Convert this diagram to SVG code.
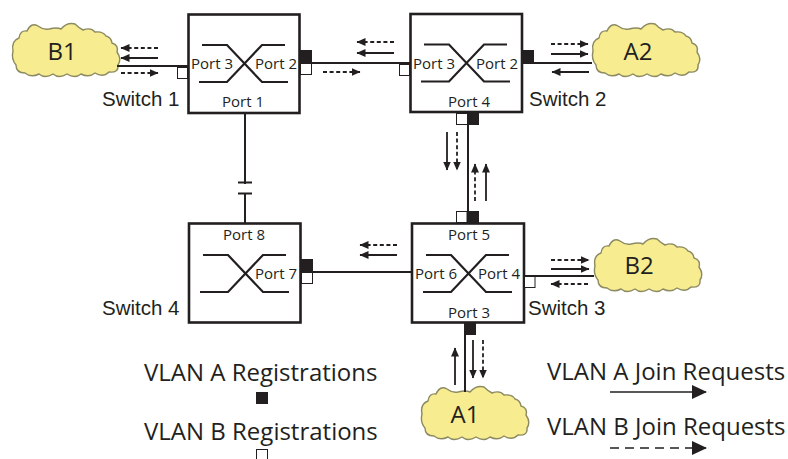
<svg xmlns="http://www.w3.org/2000/svg" xmlns:xlink="http://www.w3.org/1999/xlink" width="788" height="459" viewBox="0 0 788 459">
<style>
text{font-family:"Open Sans","Noto Sans",sans-serif;fill:#231f20}
.box{fill:#fff;stroke:#231f20;stroke-width:2.6}
.x{fill:none;stroke:#231f20;stroke-width:2.2}
.p{font-size:15px;text-anchor:middle}
.s{font-family:"Liberation Sans",Arial,sans-serif;font-size:20.5px}
.n{font-size:24px;text-anchor:middle}
.l{font-size:24px}
.w{fill:#fff;stroke:#231f20;stroke-width:1}
.b{fill:#231f20;stroke:#231f20;stroke-width:1}
.c{fill:none;stroke:#231f20;stroke-width:2}
.a{fill:none;stroke:#231f20;stroke-width:1.8;marker-end:url(#h)}
.d{stroke-dasharray:4 2.6}
.cl{fill:#f8ec90;stroke:#8c8a62;stroke-width:1.4}
</style>
<defs>
<marker id="h" markerUnits="userSpaceOnUse" markerWidth="10" markerHeight="8" refX="8.5" refY="4" orient="auto"><path d="M0 0L9 4L0 8Z" fill="#231f20"/></marker>
<marker id="H" markerUnits="userSpaceOnUse" markerWidth="16" markerHeight="14" refX="14" refY="7" orient="auto"><path d="M0 0L15 7L0 14Z" fill="#231f20"/></marker>
<path id="cloud" d="M2 28Q0 18 8 15Q9 7 16 8Q20 -1 27 3Q32 7 38 6Q46 4 50 6Q56 -1 64 1Q68 5 72 7Q80 4 84 9Q92 8 95 13Q100 14 101 20Q108 22 106 29Q111 36 107 42Q108 50 98 49Q92 55 84 50Q78 55 70 51Q64 56 56 51Q48 56 42 51Q34 56 28 51Q20 55 14 50Q5 50 5 42Q0 36 2 28Z"/>
<g id="cross"><path class="x" d="M-1 0H24L59 37H85M-4 37H24L59 0H82"/></g>
</defs>

<g id="cloud-b1"><use xlink:href="#cloud" class="cl" x="11" y="23"/><text class="n" x="62" y="60">B1</text></g>
<g id="cloud-a2"><use xlink:href="#cloud" class="cl" x="591" y="23"/><text class="n" x="638" y="60">A2</text></g>
<g id="cloud-b2"><use xlink:href="#cloud" class="cl" x="593" y="238"/><text class="n" x="639" y="274">B2</text></g>
<g id="cloud-a1"><use xlink:href="#cloud" class="cl" x="420" y="386"/><text class="n" x="465" y="423">A1</text></g>

<g id="connectors">
<path class="c" d="M117 66H188M300 63H410M522 63H592M245 113V184M245 194V223M301 272H412M468 113V223M524 276H594M465 323V392"/>
<path class="c" d="M238 182.500H252M238 193.500H252"/>
<path class="a d" d="M158 48H121"/>
<path class="a" d="M158 58H121"/>
<path class="a d" d="M121 73H158"/>
<path class="a d" d="M394 42H357"/>
<path class="a" d="M394 53H357"/>
<path class="a d" d="M323 72H360"/>
<path class="a d" d="M551 44H588"/>
<path class="a" d="M551 54H588"/>
<path class="a" d="M589 72H552"/>
<path class="a" d="M447 132V170"/>
<path class="a d" d="M457 132V170"/>
<path class="a d" d="M475 201V164"/>
<path class="a" d="M486 201V164"/>
<path class="a d" d="M397 245H360"/>
<path class="a" d="M397 255H360"/>
<path class="a d" d="M551 260H589"/>
<path class="a" d="M551 269H589"/>
<path class="a d" d="M588 284H551"/>
<path class="a" d="M455 385V348"/>
<path class="a" d="M473 340V378"/>
<path class="a d" d="M483 340V378"/>
<path d="M610 392H706" fill="none" stroke="#231f20" stroke-width="1.6" marker-end="url(#H)"/>
<path d="M610 448H706" fill="none" stroke="#231f20" stroke-width="1.6" stroke-dasharray="9 6" marker-end="url(#H)"/>
</g>

<g id="switch-1">
<rect class="box" x="188.500" y="14.500" width="111" height="98.500"/>
<use xlink:href="#cross" x="203" y="45"/>
<text class="p" x="212" y="69">Port 3</text>
<text class="p" x="276" y="69">Port 2</text>
<text class="p" x="243" y="107">Port 1</text>
<rect class="w" x="177.500" y="67.500" width="10" height="11"/>
<rect class="b" x="300.500" y="50.500" width="11" height="12"/>
<rect class="w" x="300.500" y="63.500" width="11" height="11"/>
<text class="s" x="102" y="106">Switch 1</text>
</g>

<g id="switch-2">
<rect class="box" x="410.500" y="14" width="111.500" height="98"/>
<use xlink:href="#cross" x="425" y="44.500"/>
<text class="p" x="434" y="69">Port 3</text>
<text class="p" x="497" y="69">Port 2</text>
<text class="p" x="469" y="107">Port 4</text>
<rect class="w" x="399.500" y="64.500" width="10" height="11"/>
<rect class="b" x="522.500" y="50.500" width="11" height="12"/>
<rect class="w" x="456.500" y="113.500" width="11" height="11"/>
<rect class="b" x="467.500" y="113.500" width="11" height="11"/>
<text class="s" x="529" y="106">Switch 2</text>
</g>

<g id="switch-3">
<rect class="box" x="412" y="223.500" width="112" height="99"/>
<use xlink:href="#cross" x="427" y="255"/>
<text class="p" x="436" y="279">Port 6</text>
<text class="p" x="499" y="279">Port 4</text>
<text class="p" x="469" y="240">Port 5</text>
<text class="p" x="469" y="318">Port 3</text>
<rect class="w" x="456.500" y="211.500" width="10.500" height="11"/>
<rect class="b" x="467.500" y="211.500" width="11" height="11"/>
<rect class="w" x="524.500" y="276.500" width="10.500" height="11"/>
<rect class="b" x="464.500" y="323.500" width="11" height="11"/>
<text class="s" x="528" y="315">Switch 3</text>
</g>

<g id="switch-4">
<rect class="box" x="189" y="223.500" width="111.500" height="99"/>
<use xlink:href="#cross" x="204" y="255"/>
<text class="p" x="244" y="240">Port 8</text>
<text class="p" x="276" y="279">Port 7</text>
<rect class="b" x="301.500" y="259.500" width="11" height="12"/>
<rect class="w" x="301.500" y="272.500" width="11" height="11"/>
<text class="s" x="102" y="315">Switch 4</text>
</g>

<g id="legend">
<text class="l" x="144" y="381">VLAN A Registrations</text>
<rect class="b" x="256.500" y="392.500" width="11" height="11"/>
<text class="l" x="144" y="440">VLAN B Registrations</text>
<rect class="w" x="256.500" y="449.500" width="11" height="11"/>
<text class="l" x="547" y="380">VLAN A Join Requests</text>
<text class="l" x="547" y="435">VLAN B Join Requests</text>
</g>
</svg>
